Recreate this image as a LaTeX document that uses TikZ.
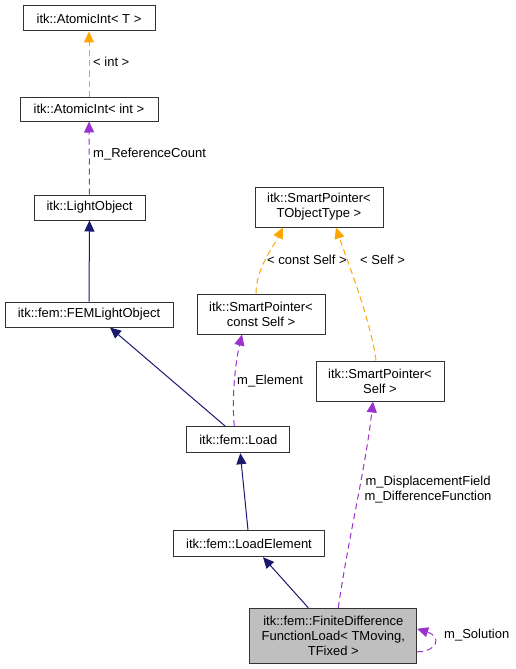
\documentclass[tikz,border=0pt]{standalone}
\usepackage{fontspec}
\setmainfont{Liberation Sans}
\usetikzlibrary{arrows.meta}
\definecolor{navyc}{HTML}{191970}
\definecolor{purplec}{HTML}{9A32CD}
\definecolor{orangec}{HTML}{FFA500}
\definecolor{grayfill}{HTML}{BFBFBF}
\begin{document}
\begin{tikzpicture}[x=1pt,y=-1pt,
  font=\fontsize{13}{15}\selectfont,
  cls/.style={draw=black!80,line width=1pt,inner sep=0pt,align=center,fill=white},
  lbl/.style={anchor=west,inner sep=0pt,align=left},
  inh/.style={draw=navyc,line width=1pt,-{Triangle[length=11pt,width=10pt]}},
  usep/.style={draw=purplec,line width=1pt,dash pattern=on 6pt off 4pt,-{Triangle[length=11pt,width=10pt]}},
  tmpl/.style={draw=orangec,line width=1pt,dash pattern=on 6pt off 4pt,-{Triangle[length=11pt,width=10pt]}}]
\useasboundingbox (0,0) rectangle (516,669);
\node[cls,minimum width=132pt,minimum height=25pt] (aT) at (89,18.5) {itk::AtomicInt< T >};
\node[cls,minimum width=138pt,minimum height=24pt] (aI) at (89,109) {itk::AtomicInt< int >};
\node[cls,minimum width=111pt,minimum height=25pt] (lo) at (89.5,207.5) {itk::LightObject};
\node[cls,minimum width=168pt,minimum height=25pt] (fem) at (89,314.5) {itk::fem::FEMLightObject};
\node[cls,minimum width=128pt,minimum height=40pt] (spT) at (319,207) {itk::SmartPointer<\\TObjectType >};
\node[cls,minimum width=128pt,minimum height=40pt] (spC) at (261,314) {itk::SmartPointer<\\const Self >};
\node[cls,minimum width=128pt,minimum height=40pt] (spS) at (380,381) {itk::SmartPointer<\\Self >};
\node[cls,minimum width=103pt,minimum height=26pt] (load) at (238.3,439.7) {itk::fem::Load};
\node[cls,minimum width=151pt,minimum height=26pt] (le) at (249,543.7) {itk::fem::LoadElement};
\node[cls,fill=grayfill,minimum width=166.7pt,minimum height=55pt] (fd) at (333.3,635.8) {itk::fem::FiniteDifference\\FunctionLoad< TMoving,\\TFixed >};

\draw[tmpl] (aI) -- (aT);
\node[lbl] (l1) at (93,62) {< int >};
\draw[usep] (lo) -- (aI);
\node[lbl] (l2) at (93,154) {m\_ReferenceCount};
\draw[inh] (fem) -- (lo);
\draw[inh] ([xshift=-13pt]load.north) -- ([xshift=21pt]fem.south);
\draw[usep] ([xshift=-4pt]load.north) .. controls +(-3,-30) and +(-6,25) .. ([xshift=-19pt]spC.south);
\node[lbl] (l3) at (237,381) {m\_Element};
\draw[tmpl] ([xshift=-5pt]spC.north) .. controls +(0,-25) and +(-10,20) .. ([xshift=-36pt]spT.south);
\node[lbl] (l4) at (267,260) {< const Self >};
\draw[tmpl] ([xshift=-4pt]spS.north) .. controls +(-5,-40) and +(10,30) .. ([xshift=17pt]spT.south);
\node[lbl] (l5) at (360,260) {< Self >};
\draw[inh] ([xshift=-1pt]le.north) -- ([xshift=2pt]load.south);
\draw[inh] ([xshift=-25pt]fd.north) -- ([xshift=14pt]le.south);
\draw[usep] ([xshift=5pt]fd.north) .. controls +(10,-70) and +(-8,70) .. ([xshift=-7pt]spS.south);
\node[inner sep=0pt,align=center] (l6) at (428,490) {m\_DisplacementField\\m\_DifferenceFunction};
\draw[usep] ([yshift=-16pt]fd.east) .. controls +(20,0) and +(25,8) .. ([yshift=7pt]fd.east);
\node[lbl] (l7) at (444,635) {m\_Solution};
\end{tikzpicture}
\end{document}
